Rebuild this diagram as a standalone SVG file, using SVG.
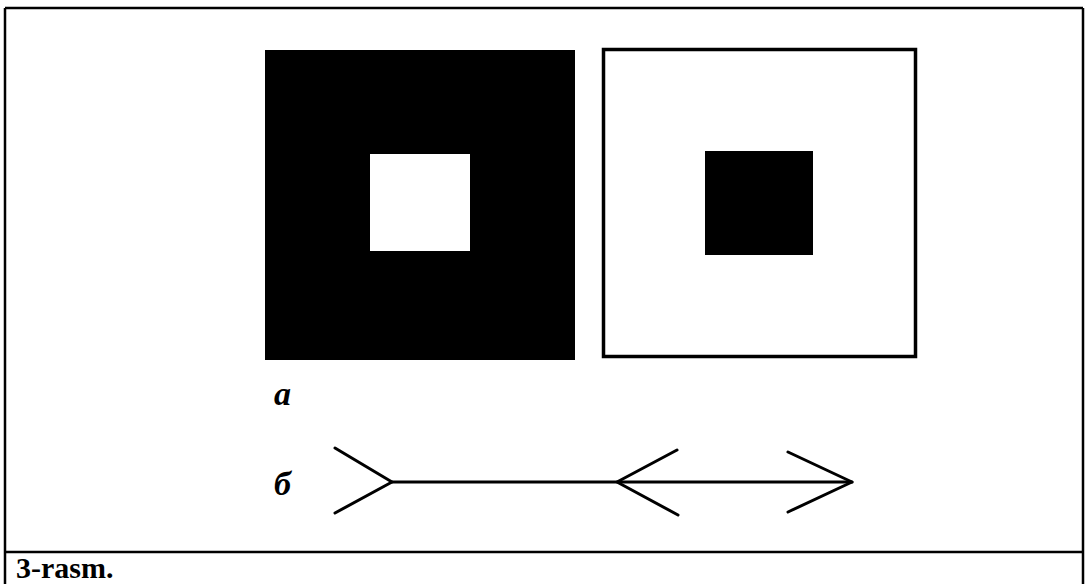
<svg xmlns="http://www.w3.org/2000/svg" width="1086" height="584" viewBox="0 0 1086 584">
  <style>
    .frame { fill: none; stroke: #000; stroke-width: 2.5; }
    .ink { fill: #000; }
    .line { fill: none; stroke: #000; stroke-width: 3; stroke-linecap: round; stroke-linejoin: round; }
    .lbl { font-family: "Liberation Serif", "Times New Roman", serif; font-style: italic; font-weight: bold; font-size: 34px; fill: #000; }
    .cap { font-family: "Liberation Serif", "Times New Roman", serif; font-weight: bold; font-size: 30px; fill: #000; }
  </style>
  <rect x="0" y="0" width="1086" height="584" fill="#fff"/>
  <g id="frame">
    <line class="frame" x1="5" y1="8" x2="1083" y2="8"/>
    <line class="frame" x1="5" y1="8" x2="5" y2="584"/>
    <line class="frame" x1="1083" y1="8" x2="1083" y2="584"/>
    <line class="frame" x1="5" y1="552" x2="1083" y2="552" stroke-width="3"/>
  </g>
  <g id="square-black">
    <rect class="ink" x="265" y="50" width="310" height="310"/>
    <rect x="370" y="154" width="100" height="97" fill="#fff"/>
  </g>
  <g id="square-white">
    <rect x="603.5" y="49.5" width="312" height="307" fill="#fff" stroke="#000" stroke-width="3.5"/>
    <rect class="ink" x="705" y="151" width="108" height="104"/>
  </g>
  <g id="label-a">
    <text class="lbl" x="274" y="405">а</text>
  </g>
  <g id="label-b">
    <text class="lbl" x="274" y="495">б</text>
  </g>
  <g id="connectors">
    <line class="line" x1="392" y1="482" x2="852" y2="482"/>
    <polyline class="line" points="335,448 392,482 335,513"/>
    <polyline class="line" points="677,450 617,482 678,515"/>
    <polyline class="line" points="788,452 852,482 788,512"/>
  </g>
  <g id="caption">
    <text class="cap" x="16" y="578">3-rasm.</text>
  </g>
</svg>
